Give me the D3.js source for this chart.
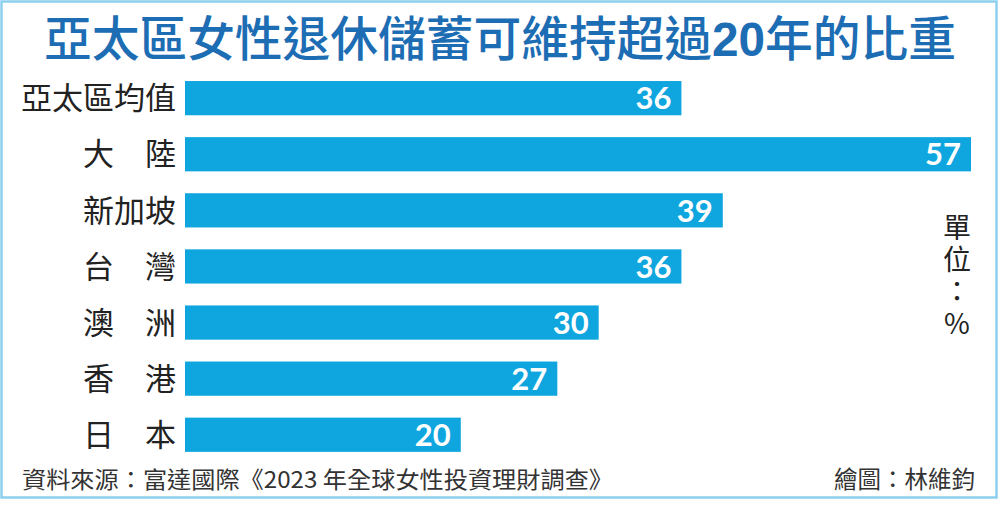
<!DOCTYPE html>
<html>
<head>
<meta charset="utf-8">
<script src="https://cdn.jsdelivr.net/npm/d3@7"></script>
<style>
  html, body { margin: 0; padding: 0; background: #fff; }
  svg { display: block; }
</style>
</head>
<body>
<div id="chart"></div>
<script>
// data
var categories = ["亞太區均值", "大陸", "新加坡", "台灣", "澳洲", "香港", "日本"]
var values = [36, 57, 39, 36, 30, 27, 20]
var unitText = "單位：%"
var titleText = ["亞太區女性退休儲蓄可維持超過", "20", "年的比重"]
var sourceText = "資料來源：富達國際《2023 年全球女性投資理財調查》"
var creditText = "繪圖：林維鈞"

var width = 1000, height = 507
var cjk = "'Noto Sans CJK TC', 'Noto Sans CJK SC', sans-serif"

var svg = d3.select('#chart')
  .append("svg")
  .attr("width", width)
  .attr("height", height)

svg.append("rect")
  .attr("width", width)
  .attr("height", height)
  .attr("fill", "#fff")

// light blue frame
svg.append("rect")
  .attr("x", 1.5)
  .attr("y", 1.5)
  .attr("width", 995)
  .attr("height", 496)
  .attr("fill", "none")
  .attr("stroke", "#8dd0ef")
  .attr("stroke-width", 2.5)

// title
var title = svg.append("text")
  .attr("x", 500)
  .attr("y", 56)
  .attr("text-anchor", "middle")
  .attr("fill", "#1c6db3")
  .style("font-family", cjk)
  .style("font-size", "48px")
  .style("font-weight", 500)
  .attr("textLength", 912)
  .attr("lengthAdjust", "spacingAndGlyphs")
titleText.forEach(function(t, i) {
  title.append("tspan")
    .style("font-weight", i == 1 ? 700 : 500)
    .style("font-family", i == 1 ? "'Liberation Sans', Arial, sans-serif" : cjk)
    .text(t)
})

var data = categories.map(function(c, i) {
  return { name: c, value: values[i] }
})

var y = d3.scaleBand()
  .domain(categories)
  .range([70.1, 70.1 + 7 * 56.1])
  .paddingInner(0.39)
  .paddingOuter(0.195)

var x = d3.scaleLinear()
  .domain([0, d3.max(values)])
  .range([185, 971])

var row = svg.selectAll(".row")
  .data(data)
  .enter()
  .append("g")
  .attr("class", "row")

row.append("rect")
  .attr("x", x(0))
  .attr("y", d => y(d.name))
  .attr("width", d => x(d.value) - x(0))
  .attr("height", y.bandwidth())
  .attr("fill", "#0fa5de")

// category labels, two-char names spread over three char widths
row.append("text")
  .attr("x", 176)
  .attr("y", d => y(d.name) + y.bandwidth() / 2)
  .attr("dy", "0.36em")
  .attr("text-anchor", "end")
  .attr("fill", "#222")
  .style("font-family", cjk)
  .style("font-size", "31px")
  .text(function(d) {
    return d.name.length == 2 ? d.name[0] + "\u3000" + d.name[1] : d.name
  })

row.append("text")
  .attr("x", d => x(d.value) - 10)
  .attr("y", d => y(d.name) + y.bandwidth() / 2)
  .attr("dy", "0.36em")
  .attr("text-anchor", "end")
  .attr("fill", "#fff")
  .style("font-family", "Lato, 'Open Sans', sans-serif")
  .style("font-size", "31px")
  .style("font-weight", 700)
  .text(d => d.value)

// unit, written vertically as one text
svg.append("text")
  .attr("x", 957)
  .attr("y", 213)
  .attr("fill", "#222")
  .style("font-family", cjk)
  .style("font-size", "28px")
  .style("writing-mode", "vertical-rl")
  .style("text-orientation", "upright")
  .style("letter-spacing", "4px")
  .text(unitText)

// footer
svg.append("text")
  .attr("x", 22)
  .attr("y", 488)
  .attr("fill", "#333")
  .style("font-family", cjk)
  .style("font-size", "23px")
  .attr("textLength", 591)
  .attr("lengthAdjust", "spacingAndGlyphs")
  .text(sourceText)

svg.append("text")
  .attr("x", 975)
  .attr("y", 488)
  .attr("text-anchor", "end")
  .attr("fill", "#333")
  .style("font-family", cjk)
  .style("font-size", "23.5px")
  .text(creditText)
</script>
</body>
</html>
